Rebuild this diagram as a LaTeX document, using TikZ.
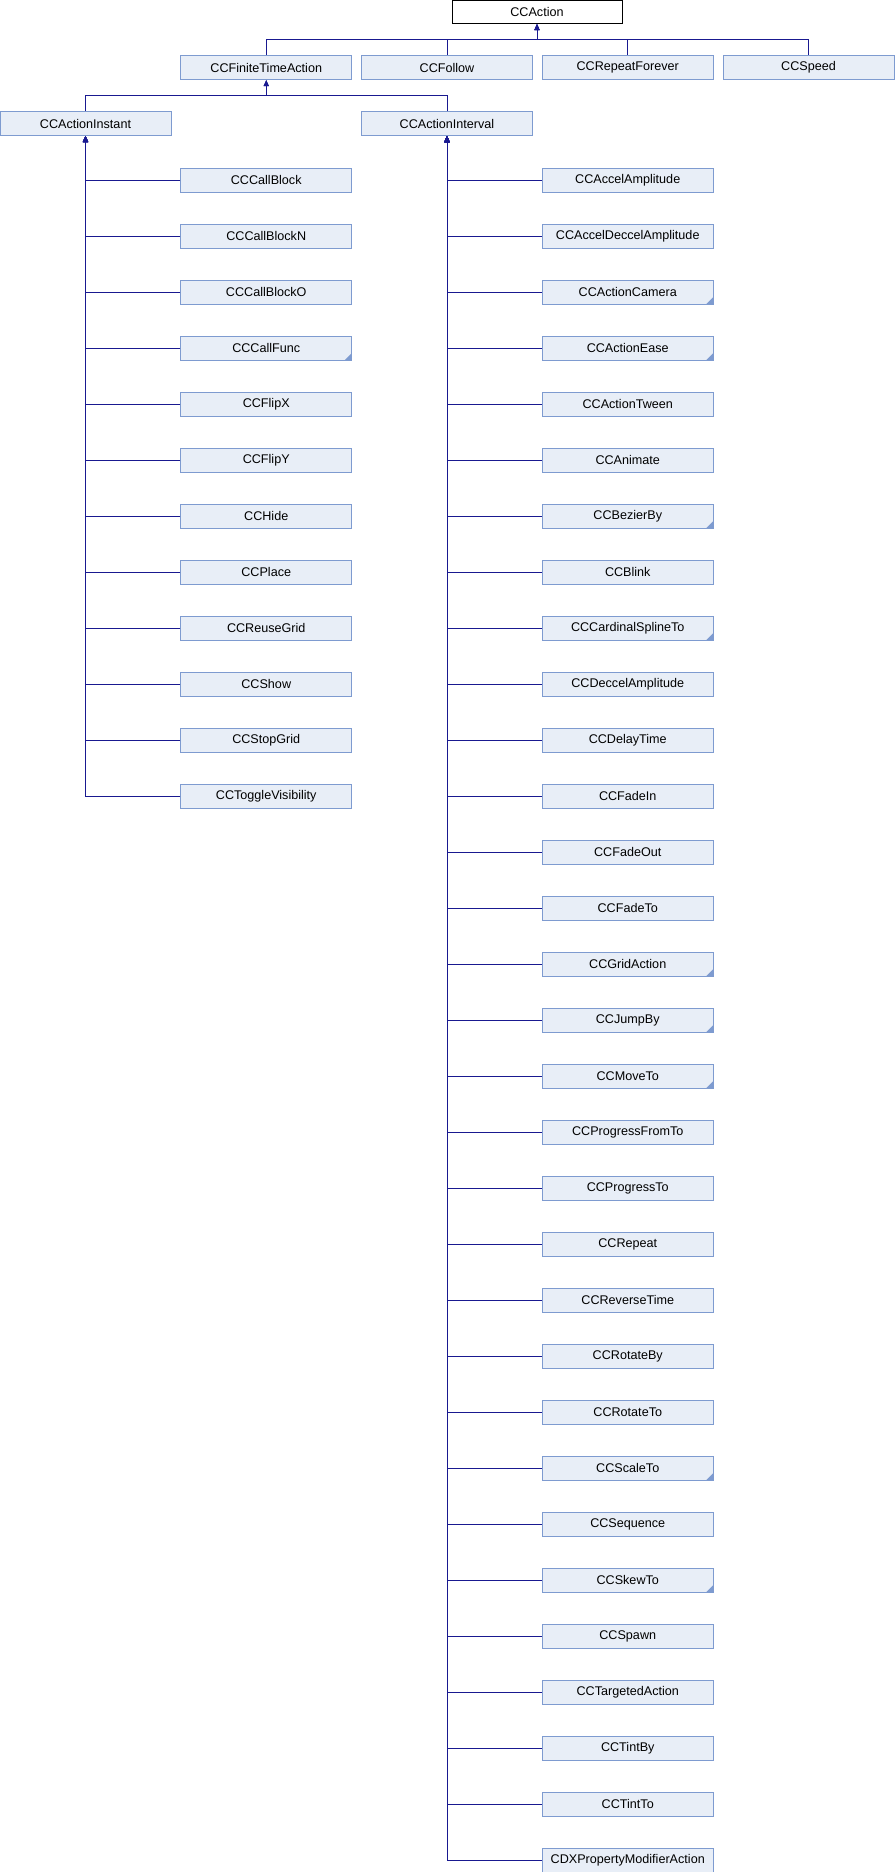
\documentclass[tikz,border=0pt]{standalone}
\usepackage{fontspec}
\setmainfont{Liberation Sans}
\usetikzlibrary{arrows.meta}

\definecolor{boxfill}{HTML}{E8EEF7}
\definecolor{boxline}{HTML}{7E9BD0}
\definecolor{edgeblue}{HTML}{191990}

\tikzset{
  cls/.style={draw=boxline, fill=boxfill, line width=1pt,
    minimum width=171pt, minimum height=24pt, inner sep=0pt,
    font=\fontsize{12.6}{14}\selectfont},
  rootcls/.style={cls, draw=black, fill=white, minimum width=170pt, minimum height=23pt},
  plain/.style={},
  % class with further (hidden) subclasses: small filled corner mark
  more/.style={path picture={
      \fill[boxline] (path picture bounding box.south east)
        -- ++(-7pt,0pt) -- ++(7pt,7pt) -- cycle;}},
  inherit/.style={draw=edgeblue, line width=1pt,
    -{Triangle[length=6pt,width=5pt]}}
}

\begin{document}
\begin{tikzpicture}[x=1pt,y=-1pt]
\useasboundingbox (0,0) rectangle (895,1872);

% root
\node[rootcls] (root) at (537,12) {CCAction};

% second level
\node[cls] (fta)    at (266.25,67.5) {CCFiniteTimeAction};
\node[cls] (follow) at (447,67.5)    {CCFollow};
\node[cls] (repfor) at (627.75,67.5) {CCRepeatForever};
\node[cls] (speed)  at (808.5,67.5)  {CCSpeed};

\foreach \c in {fta,follow,repfor,speed}
  \draw[inherit] (\c.north) -- ++(0,-16) -| (root.south);

% third level
\node[cls] (instant)  at (85.5,123.5) {CCActionInstant};
\node[cls] (interval) at (447,123.5)  {CCActionInterval};

\foreach \c in {instant,interval}
  \draw[inherit] (\c.north) -- ++(0,-16) -| (fta.south);

% instant actions
\foreach \txt/\st [count=\i from 0] in {
    CCCallBlock/plain, CCCallBlockN/plain, CCCallBlockO/plain,
    CCCallFunc/more, CCFlipX/plain, CCFlipY/plain, CCHide/plain,
    CCPlace/plain, CCReuseGrid/plain, CCShow/plain, CCStopGrid/plain,
    CCToggleVisibility/plain} {
  \node[cls,\st] (L\i) at (266.25,{180+56*\i}) {\txt};
  \draw[inherit] (L\i.west) -| (instant.south);
}

% interval actions
\foreach \txt/\st [count=\i from 0] in {
    CCAccelAmplitude/plain, CCAccelDeccelAmplitude/plain,
    CCActionCamera/more, CCActionEase/more, CCActionTween/plain,
    CCAnimate/plain, CCBezierBy/more, CCBlink/plain,
    CCCardinalSplineTo/more, CCDeccelAmplitude/plain,
    CCDelayTime/plain, CCFadeIn/plain, CCFadeOut/plain, CCFadeTo/plain,
    CCGridAction/more, CCJumpBy/more, CCMoveTo/more,
    CCProgressFromTo/plain, CCProgressTo/plain, CCRepeat/plain,
    CCReverseTime/plain, CCRotateBy/plain, CCRotateTo/plain,
    CCScaleTo/more, CCSequence/plain, CCSkewTo/more, CCSpawn/plain,
    CCTargetedAction/plain, CCTintBy/plain, CCTintTo/plain,
    CDXPropertyModifierAction/plain} {
  \node[cls,\st] (R\i) at (627.75,{180+56*\i}) {\txt};
  \draw[inherit] (R\i.west) -| (interval.south);
}
\end{tikzpicture}
\end{document}
